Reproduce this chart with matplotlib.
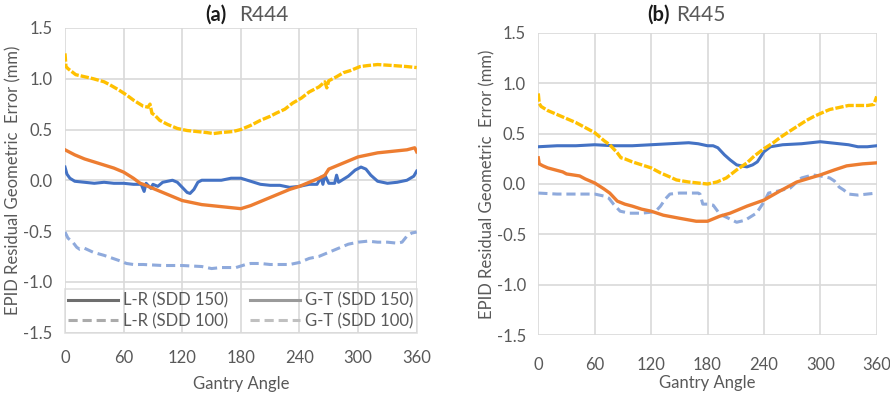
import matplotlib
matplotlib.use("Agg")
import matplotlib.pyplot as plt
from matplotlib.lines import Line2D

plt.rcParams['font.family'] = ['Lato', 'DejaVu Sans']

# ---------------- data: panel (a) R444 ----------------
a_blue_ang = [0, 2, 5, 10, 20, 30, 40, 50, 60, 70, 78, 81, 83, 86, 88, 90, 95, 100, 105, 110, 115, 120,
              125, 128, 132, 136, 140, 150, 160, 170, 180, 190, 200, 210, 220, 230, 240, 250, 258, 262,
              264, 266, 270, 276, 278, 280, 290, 297, 303, 308, 313, 320, 330, 340, 350, 357, 360]
a_blue_val = [0.13, 0.06, 0.02, -0.01, -0.02, -0.03, -0.02, -0.03, -0.03, -0.04, -0.04, -0.11, -0.03,
              -0.06, -0.08, -0.04, -0.06, -0.02, -0.01, 0.0, -0.02, -0.07, -0.12, -0.13, -0.09, -0.02,
              0.0, 0.0, 0.0, 0.02, 0.02, -0.01, -0.04, -0.05, -0.05, -0.07, -0.06, -0.04, -0.04, 0.03,
              -0.04, 0.05, -0.03, -0.03, 0.05, -0.02, 0.04, 0.10, 0.13, 0.11, 0.05, -0.01, -0.03, -0.02,
              0.0, 0.04, 0.09]

a_orange_ang = [0, 10, 20, 30, 40, 50, 60, 70, 77, 80, 90, 100, 110, 120, 130, 140, 150, 160, 170, 180,
                190, 200, 210, 220, 230, 240, 250, 260, 266, 270, 280, 290, 300, 310, 320, 330, 340,
                350, 358, 360]
a_orange_val = [0.30, 0.25, 0.21, 0.18, 0.15, 0.12, 0.08, 0.02, -0.03, -0.04, -0.08, -0.12, -0.16, -0.20,
                -0.22, -0.24, -0.25, -0.26, -0.27, -0.28, -0.25, -0.21, -0.17, -0.13, -0.09, -0.06,
                -0.02, 0.02, 0.05, 0.11, 0.15, 0.19, 0.23, 0.25, 0.27, 0.28, 0.29, 0.30, 0.32, 0.28]

a_yellow_ang = [0, 1, 3, 11, 20, 29, 40, 46, 55, 63, 70, 80, 85, 87, 89, 92, 97, 105, 115, 125, 135,
                145, 152, 160, 172, 180, 190, 200, 210, 216, 225, 233, 242, 250, 260, 266, 268, 270,
                278, 285, 292, 302, 310, 320, 336, 350, 360]
a_yellow_val = [1.25, 1.12, 1.10, 1.04, 1.02, 1.00, 0.97, 0.94, 0.89, 0.84, 0.79, 0.73, 0.72, 0.75,
                0.66, 0.64, 0.59, 0.55, 0.51, 0.49, 0.48, 0.47, 0.46, 0.47, 0.48, 0.50, 0.54, 0.59,
                0.63, 0.66, 0.70, 0.76, 0.81, 0.87, 0.92, 0.97, 0.91, 0.98, 1.02, 1.06, 1.08, 1.12,
                1.13, 1.14, 1.13, 1.12, 1.11]

a_ltblue_ang = [0, 3, 8, 12, 15, 20, 29, 40, 46, 55, 63, 70, 80, 100, 120, 140, 150, 160, 175, 185,
                190, 200, 210, 220, 230, 240, 250, 260, 270, 280, 290, 300, 310, 320, 330, 340, 345,
                350, 355, 360]
a_ltblue_val = [-0.51, -0.57, -0.61, -0.66, -0.68, -0.67, -0.71, -0.74, -0.76, -0.79, -0.82, -0.83,
                -0.83, -0.84, -0.84, -0.85, -0.87, -0.86, -0.86, -0.83, -0.82, -0.82, -0.83, -0.83,
                -0.83, -0.81, -0.77, -0.75, -0.71, -0.67, -0.63, -0.61, -0.60, -0.61, -0.61, -0.62,
                -0.61, -0.55, -0.52, -0.51]

# ---------------- data: panel (b) R445 ----------------
b_blue_ang = [0, 20, 40, 60, 80, 100, 120, 140, 160, 170, 180, 186, 191, 198, 204, 211, 216, 222, 228,
              233, 240, 247, 260, 280, 300, 310, 320, 330, 340, 350, 360]
b_blue_val = [0.37, 0.38, 0.38, 0.39, 0.38, 0.38, 0.39, 0.40, 0.41, 0.40, 0.38, 0.38, 0.36, 0.29, 0.24,
              0.19, 0.18, 0.17, 0.19, 0.22, 0.32, 0.37, 0.39, 0.40, 0.42, 0.41, 0.40, 0.39, 0.37, 0.37,
              0.38]

b_orange_ang = [0, 1, 5, 10, 26, 30, 44, 50, 60, 70, 76, 84, 92, 100, 110, 120, 133, 150, 168, 180,
                193, 204, 222, 240, 257, 275, 300, 315, 328, 345, 360]
b_orange_val = [0.26, 0.20, 0.18, 0.16, 0.12, 0.10, 0.08, 0.05, 0.01, -0.05, -0.09, -0.17, -0.20,
                -0.22, -0.25, -0.27, -0.31, -0.34, -0.37, -0.37, -0.32, -0.29, -0.22, -0.16, -0.07,
                0.02, 0.09, 0.14, 0.18, 0.20, 0.21]

b_yellow_ang = [0, 1, 3, 10, 20, 30, 40, 50, 60, 70, 76, 84, 88, 92, 100, 110, 120, 130, 140, 147,
                160, 170, 180, 190, 200, 211, 222, 230, 240, 250, 257, 265, 275, 285, 293, 300, 310,
                320, 330, 340, 350, 357, 360]
b_yellow_val = [0.90, 0.80, 0.77, 0.73, 0.69, 0.65, 0.61, 0.56, 0.51, 0.43, 0.39, 0.31, 0.26, 0.25,
                0.22, 0.19, 0.16, 0.11, 0.07, 0.04, 0.02, 0.01, 0.00, 0.02, 0.06, 0.14, 0.21, 0.28,
                0.35, 0.41, 0.46, 0.51, 0.57, 0.63, 0.67, 0.70, 0.74, 0.76, 0.78, 0.78, 0.78, 0.79,
                0.87]

b_ltblue_ang = [0, 20, 40, 60, 70, 75, 80, 87, 97, 110, 120, 126, 130, 135, 140, 150, 160, 170, 172,
                175, 180, 186, 190, 193, 200, 211, 220, 232, 240, 245, 255, 268, 275, 280, 292, 300,
                310, 315, 320, 325, 330, 340, 350, 360]
b_ltblue_val = [-0.09, -0.10, -0.10, -0.10, -0.12, -0.14, -0.20, -0.27, -0.29, -0.29, -0.28, -0.26,
                -0.22, -0.15, -0.10, -0.09, -0.09, -0.09, -0.10, -0.20, -0.20, -0.21, -0.26, -0.30,
                -0.33, -0.38, -0.36, -0.29, -0.18, -0.09, -0.07, -0.04, 0.02, 0.06, 0.09, 0.08, 0.06,
                0.03, -0.03, -0.06, -0.10, -0.11, -0.10, -0.09]

x_ticks = [0, 60, 120, 180, 240, 300, 360]
y_ticks = [-1.5, -1.0, -0.5, 0.0, 0.5, 1.0, 1.5]
y_tick_labels = ['-1.5', '-1.0', '-0.5', '0.0', '0.5', '1.0', '1.5']
legend_labels = ['L-R (SDD 150)', 'L-R (SDD 100)', 'G-T (SDD 150)', 'G-T (SDD 100)']

C_BLUE = '#4472C4'
C_ORANGE = '#ED7D31'
C_YELLOW = '#FFC000'
C_LTBLUE = '#8FAADC'
GRID = '#D9D9D9'
TXT = '#595959'

fig = plt.figure(figsize=(8.9, 3.96), dpi=100)
ax_a = fig.add_axes([65 / 890, 1 - 332.5 / 396, (416.7 - 65) / 890, (332.5 - 28) / 396])
ax_b = fig.add_axes([538.3 / 890, 1 - 335 / 396, (876.7 - 538.3) / 890, (335 - 33) / 396])


def draw(ax, blue, orange, yellow, ltblue, xpad, xlabelpad):
    ax.plot(*ltblue, color=C_LTBLUE, lw=2.2, ls=(0, (3, 1.6)), zorder=3)
    ax.plot(*blue, color=C_BLUE, lw=2.2, zorder=4)
    ax.plot(*orange, color=C_ORANGE, lw=2.4, zorder=4)
    ax.plot(*yellow, color=C_YELLOW, lw=2.4, ls=(0, (2.5, 0.6)), zorder=5)
    ax.set_xlim(0, 360)
    ax.set_ylim(-1.5, 1.5)
    ax.set_xticks(x_ticks)
    ax.set_yticks(y_ticks)
    ax.set_yticklabels(y_tick_labels)
    ax.grid(True, color=GRID, lw=1.2)
    ax.set_axisbelow(True)
    for s in ax.spines.values():
        s.set_visible(False)
    ax.tick_params(length=0, labelsize=12, colors=TXT)
    ax.tick_params(axis='y', pad=9)
    ax.tick_params(axis='x', pad=xpad)
    ax.set_xlabel('Gantry Angle', fontsize=12, color=TXT, labelpad=xlabelpad)
    ax.set_ylabel('EPID Residual Geometric  Error (mm)', fontsize=12, color=TXT, labelpad=1)


draw(ax_a, (a_blue_ang, a_blue_val), (a_orange_ang, a_orange_val),
     (a_yellow_ang, a_yellow_val), (a_ltblue_ang, a_ltblue_val), 12.5, 7)
draw(ax_b, (b_blue_ang, b_blue_val), (b_orange_ang, b_orange_val),
     (b_yellow_ang, b_yellow_val), (b_ltblue_ang, b_ltblue_val), 15.5, 2)

handles = [Line2D([], [], color='#6E6E6E', lw=2.2),
           Line2D([], [], color='#ABABAB', lw=2.2, ls=(0, (3, 1.6))),
           Line2D([], [], color='#9A9A9A', lw=2.2),
           Line2D([], [], color='#C0C0C0', lw=2.2, ls=(0, (3, 1.6)))]
leg = ax_a.legend(handles, legend_labels, ncol=2, loc='lower left',
                  bbox_to_anchor=(0, 0, 1, 50 / 304.5), mode='expand', frameon=True,
                  fancybox=False, fontsize=12, handlelength=3.0, handletextpad=0.3,
                  borderpad=0.2, labelspacing=0.25, borderaxespad=0)
leg.get_frame().set_edgecolor(GRID)
leg.get_frame().set_facecolor('none')
leg.get_frame().set_linewidth(1.2)
for t in leg.get_texts():
    t.set_color(TXT)

fig.text(227 / 890, 1 - 15 / 396, '(a)', ha='right', va='center', fontsize=14.5, fontweight='bold',
         color='#1a1a1a')
fig.text(239 / 890, 1 - 15 / 396, 'R444', ha='left', va='center', fontsize=15, color=TXT)
fig.text(670 / 890, 1 - 15 / 396, '(b)', ha='right', va='center', fontsize=14.5, fontweight='bold',
         color='#1a1a1a')
fig.text(676 / 890, 1 - 15 / 396, 'R445', ha='left', va='center', fontsize=15, color=TXT)

fig.savefig('out.png', dpi=100)
